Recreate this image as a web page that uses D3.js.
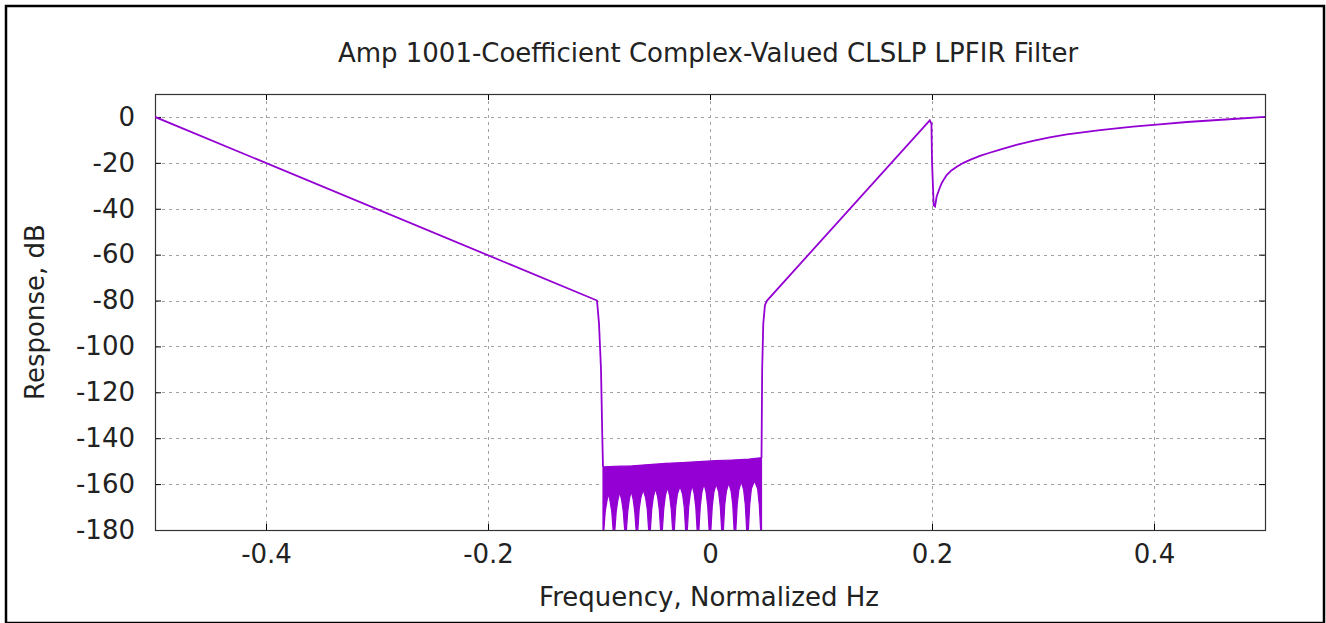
<!DOCTYPE html>
<html>
<head>
<meta charset="utf-8">
<script src="https://cdn.jsdelivr.net/npm/d3@7"></script>
<style>
  body { margin: 0; background: #fff; }
  svg text { font-family: "DejaVu Sans", sans-serif; fill: #222; }
</style>
</head>
<body>
<svg id="graph" width="1326" height="623"></svg>
<script>
// 坐标刻度
const xTicks = [-0.4, -0.2, 0, 0.2, 0.4];
const yTicks = [0, -20, -40, -60, -80, -100, -120, -140, -160, -180];

// 左侧斜线 + 左边沿
const leftFreq = [-0.5, -0.1018, -0.1000, -0.0982, -0.0970, -0.0964];
const leftDb   = [0, -80, -90, -110, -140, -152.5];

// 右边沿 + 上升斜线 + 0.2 处凹口 + 恢复曲线
const rightFreq = [0.0464, 0.0470, 0.0480, 0.0495, 0.0514, 0.1980, 0.1995, 0.2000, 0.2015, 0.2027,
                   0.2042, 0.2065, 0.2087, 0.2110, 0.2132, 0.2175, 0.2223, 0.2280, 0.2342, 0.2432,
                   0.2520, 0.2613, 0.2760, 0.2910, 0.3060, 0.3216, 0.3514, 0.3811, 0.4050, 0.4297,
                   0.4712, 0.5];
const rightDb   = [-148.5, -110, -90, -82, -80, -1.5, -3, -19, -38.5, -39,
                   -34.7, -31.5, -28.9, -27.0, -25.3, -23.3, -21.7, -20.1, -18.7, -17.0,
                   -15.6, -14.2, -12.2, -10.4, -8.9, -7.6, -5.7, -4.2, -3.2, -2.2,
                   -0.9, 0];

// 阻带上包络
const topFreq = [-0.0964, -0.0800, -0.0700, -0.0550, -0.0400, -0.0250, -0.0100, 0.0050, 0.0200, 0.0350, 0.0464];
const topDb   = [-152.5, -152.2, -152.0, -151.5, -151.0, -150.6, -150.2, -149.8, -149.5, -149.1, -148.5];

// 阻带下包络（零点处跌出画面）
const lowFreq = [-0.0964,
  -0.0956, -0.0944, -0.0929, -0.0915, -0.0900, -0.0885, -0.0873, -0.0865,
  -0.0857, -0.0845, -0.0830, -0.0813, -0.0796, -0.0781, -0.0769, -0.0761,
  -0.0753, -0.0741, -0.0726, -0.0710, -0.0693, -0.0678, -0.0666, -0.0658,
  -0.0650, -0.0638, -0.0623, -0.0602, -0.0580, -0.0565, -0.0553, -0.0545,
  -0.0537, -0.0525, -0.0510, -0.0491, -0.0472, -0.0457, -0.0445, -0.0437,
  -0.0429, -0.0417, -0.0402, -0.0383, -0.0364, -0.0349, -0.0337, -0.0329,
  -0.0321, -0.0309, -0.0294, -0.0270, -0.0247, -0.0232, -0.0220, -0.0212,
  -0.0204, -0.0192, -0.0177, -0.0160, -0.0143, -0.0128, -0.0116, -0.0108,
  -0.0100, -0.0088, -0.0073, -0.0054, -0.0035, -0.0020, -0.0008, 0.0000,
   0.0008,  0.0020,  0.0035,  0.0056,  0.0078,  0.0093,  0.0105, 0.0113,
   0.0121,  0.0133,  0.0148,  0.0169,  0.0190,  0.0205,  0.0217, 0.0225,
   0.0233,  0.0245,  0.0260,  0.0282,  0.0303,  0.0318,  0.0330, 0.0338,
   0.0346,  0.0358,  0.0373,  0.0401,  0.0429,  0.0444,  0.0456, 0.0464];
const lowDb = [-195,
  -180, -172, -167.5, -164.0, -167.5, -172, -180, -195,
  -180, -172, -167.0, -163.5, -167.0, -172, -180, -195,
  -180, -172, -166.5, -163.0, -166.5, -172, -180, -195,
  -180, -171, -166.0, -162.5, -166.0, -171, -180, -195,
  -180, -171, -165.5, -162.0, -165.5, -171, -180, -195,
  -180, -171, -165.0, -161.5, -165.0, -171, -180, -195,
  -180, -170, -164.5, -161.0, -164.5, -170, -180, -195,
  -180, -170, -164.0, -160.5, -164.0, -170, -180, -195,
  -180, -170, -163.5, -160.0, -163.5, -170, -180, -195,
  -180, -170, -163.5, -160.0, -163.5, -170, -180, -195,
  -180, -169, -163.0, -159.5, -163.0, -169, -180, -195,
  -180, -169, -162.5, -159.0, -162.5, -169, -180, -195,
  -180, -169, -162.0, -158.5, -162.0, -169, -180, -195];

const svg = d3.select('#graph');
const width = 1326, height = 623;
const margin = { top: 94, right: 61, bottom: 93, left: 155 };
const innerWidth = width - margin.left - margin.right;
const innerHeight = height - margin.top - margin.bottom;
const lineColor = '#9400d3';
const fontSize = '26px';

// 外框
svg.append('rect')
   .attr('x', 6).attr('y', 6)
   .attr('width', 1318).attr('height', 617)
   .attr('fill', 'none')
   .attr('stroke', '#000')
   .attr('stroke-width', 2.5);

const xScale = d3.scaleLinear()
                 .domain([-0.5, 0.5])
                 .range([margin.left, margin.left + innerWidth]);
const yScale = d3.scaleLinear()
                 .domain([-180, 10])
                 .range([margin.top + innerHeight, margin.top]);

svg.append('defs').append('clipPath').attr('id', 'plot-clip')
   .append('rect')
   .attr('x', margin.left).attr('y', margin.top)
   .attr('width', innerWidth).attr('height', innerHeight);

// 网格
const grid = svg.append('g').attr('stroke', '#a0a0a0').attr('stroke-dasharray', '3,4').attr('stroke-width', 1);
yTicks.filter(t => t > -180).forEach(t => {
    grid.append('line')
        .attr('x1', margin.left).attr('x2', margin.left + innerWidth)
        .attr('y1', Math.round(yScale(t)) + 0.5).attr('y2', Math.round(yScale(t)) + 0.5);
});
xTicks.forEach(t => {
    grid.append('line')
        .attr('y1', margin.top).attr('y2', margin.top + innerHeight)
        .attr('x1', Math.round(xScale(t)) + 0.5).attr('x2', Math.round(xScale(t)) + 0.5);
});

// 坐标轴（用普通连字符做负号）
const fmt = d => d === 0 ? '0' : String(d).replace('\u2212', '-');
const yAxis = d3.axisLeft(yScale).tickValues(yTicks).tickSize(-6).tickPadding(20).tickFormat(fmt);
const xAxis = d3.axisBottom(xScale).tickValues(xTicks).tickSize(-6).tickPadding(15)
                .tickFormat(d => d === 0 ? '0' : d3.format('.1f')(d).replace('\u2212', '-'));

const yG = svg.append('g').attr('transform', `translate(${margin.left}, 0)`).call(yAxis);
const xG = svg.append('g').attr('transform', `translate(0, ${margin.top + innerHeight})`).call(xAxis);
// 镜像刻度
const yMirror = svg.append('g').attr('transform', `translate(${margin.left + innerWidth}, 0)`)
   .call(d3.axisRight(yScale).tickValues(yTicks).tickSize(-6).tickFormat(''));
const xMirror = svg.append('g').attr('transform', `translate(0, ${margin.top})`)
   .call(d3.axisTop(xScale).tickValues(xTicks).tickSize(-6).tickFormat(''));
yMirror.selectAll('text').remove();
xMirror.selectAll('text').remove();

svg.selectAll('.domain').remove();
svg.selectAll('.tick line').attr('stroke', '#000');
svg.selectAll('.tick text').style('font-size', fontSize).attr('fill', '#222')
   .style('font-family', '"DejaVu Sans", sans-serif');

// 绘图区边框
svg.append('rect')
   .attr('x', margin.left + 0.5).attr('y', margin.top + 0.5)
   .attr('width', innerWidth).attr('height', innerHeight)
   .attr('fill', 'none').attr('stroke', '#333').attr('stroke-width', 1.2);

const plot = svg.append('g').attr('clip-path', 'url(#plot-clip)');
const line = d3.line().x(d => xScale(d[0])).y(d => yScale(d[1]));

// 阻带填充
const band = topFreq.map((f, i) => [f, topDb[i]])
    .concat(lowFreq.map((f, i) => [f, lowDb[i]]).reverse());
plot.append('path')
    .attr('d', line(band) + 'Z')
    .attr('fill', lineColor)
    .attr('stroke', lineColor)
    .attr('stroke-width', 1.2);

plot.append('path')
    .attr('d', line(leftFreq.map((f, i) => [f, leftDb[i]])))
    .attr('fill', 'none').attr('stroke', lineColor).attr('stroke-width', 1.8);
plot.append('path')
    .attr('d', line(rightFreq.map((f, i) => [f, rightDb[i]])))
    .attr('fill', 'none').attr('stroke', lineColor).attr('stroke-width', 1.8);

// 标题与轴标题
svg.append('text')
   .attr('x', 708).attr('y', 62)
   .attr('text-anchor', 'middle')
   .style('font-size', fontSize)
   .text('Amp 1001-Coefficient Complex-Valued CLSLP LPFIR Filter');
svg.append('text')
   .attr('x', 709).attr('y', 606)
   .attr('text-anchor', 'middle')
   .style('font-size', fontSize)
   .text('Frequency, Normalized Hz');
svg.append('text')
   .attr('transform', 'translate(44, 312) rotate(-90)')
   .attr('text-anchor', 'middle')
   .style('font-size', fontSize)
   .text('Response, dB');
</script>
</body>
</html>
